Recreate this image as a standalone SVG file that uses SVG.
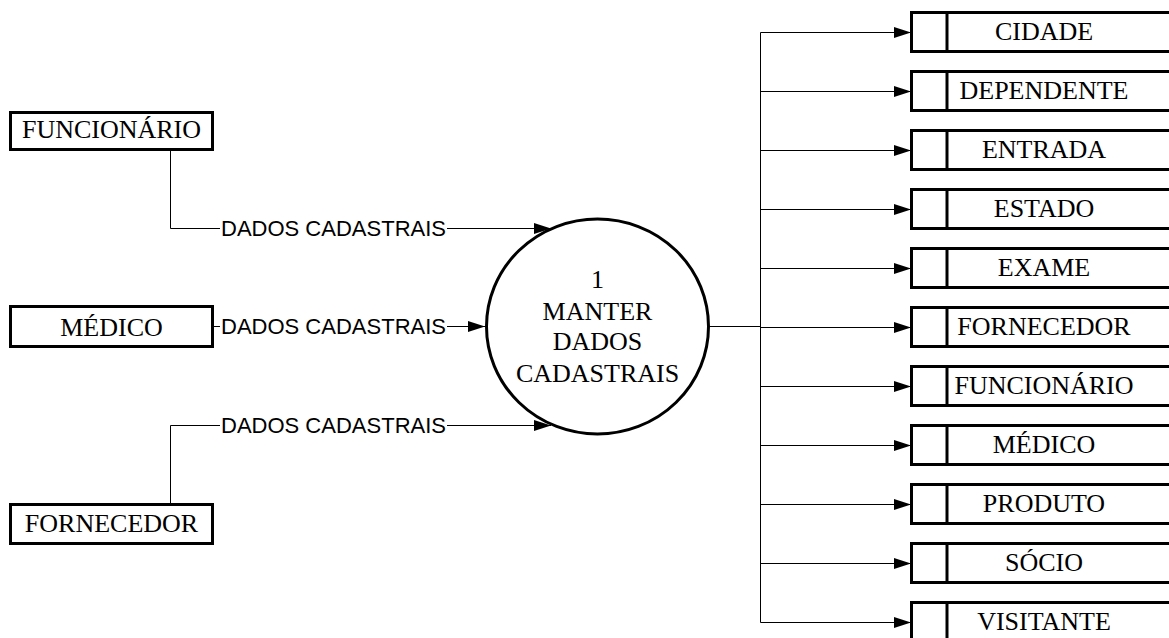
<svg xmlns="http://www.w3.org/2000/svg" width="1169" height="638" viewBox="0 0 1169 638">
<style>
.box{fill:#fff;stroke:#000;stroke-width:3}
.t{font-family:"Liberation Serif","Times New Roman",serif;font-size:26px;fill:#000;text-anchor:middle}
.lbl{font-family:"Liberation Sans",Arial,sans-serif;font-size:22px;fill:#000}
.ln{fill:none;stroke:#000;stroke-width:1}
.arr{fill:none;stroke:#000;stroke-width:1;marker-end:url(#ah)}
</style>
<defs>
<marker id="ah" markerUnits="userSpaceOnUse" markerWidth="18" markerHeight="12" refX="17" refY="6" orient="auto">
<path d="M0,0.5 L17,6 L0,11.5 z" fill="#000"/>
</marker>
</defs>
<rect width="1169" height="638" fill="#fff"/>
<g id="connectors">
<path class="ln" d="M170.5,150 V228.5 H220"/>
<path class="arr" d="M447,228.5 H551"/>
<path class="ln" d="M213,326.5 H220"/>
<path class="arr" d="M447,326.5 H485"/>
<path class="ln" d="M170.5,504 V425.5 H220"/>
<path class="arr" d="M447,425.5 H551"/>
<path class="ln" d="M709,326.5 H760.5 M760.5,32.5 V622.5"/>
<path class="arr" d="M760.5,32.5 H911"/>
<path class="arr" d="M760.5,91.5 H911"/>
<path class="arr" d="M760.5,150.5 H911"/>
<path class="arr" d="M760.5,209.5 H911"/>
<path class="arr" d="M760.5,268.5 H911"/>
<path class="arr" d="M760.5,327.5 H911"/>
<path class="arr" d="M760.5,386.5 H911"/>
<path class="arr" d="M760.5,445.5 H911"/>
<path class="arr" d="M760.5,504.5 H911"/>
<path class="arr" d="M760.5,563.5 H911"/>
<path class="arr" d="M760.5,622.5 H911"/>
<text class="lbl" x="221" y="236" textLength="225">DADOS CADASTRAIS</text>
<text class="lbl" x="221" y="334" textLength="225">DADOS CADASTRAIS</text>
<text class="lbl" x="221" y="433" textLength="225">DADOS CADASTRAIS</text>
</g>
<g id="ext-funcionario">
<rect class="box" x="10.5" y="112.5" width="202" height="37"/>
<text class="t" x="111.5" y="138">FUNCIONÁRIO</text>
</g>
<g id="ext-medico">
<rect class="box" x="10.5" y="306.5" width="202" height="40"/>
<text class="t" x="111.5" y="336">MÉDICO</text>
</g>
<g id="ext-fornecedor">
<rect class="box" x="10.5" y="504.5" width="202" height="39"/>
<text class="t" x="111.5" y="532">FORNECEDOR</text>
</g>
<g id="process-1">
<ellipse cx="597.5" cy="326.5" rx="111" ry="107.5" fill="#fff" stroke="#000" stroke-width="3"/>
<text class="t" x="597.5" y="288">1</text>
<text class="t" x="597.5" y="320">MANTER</text>
<text class="t" x="597.5" y="350">DADOS</text>
<text class="t" x="597.5" y="382">CADASTRAIS</text>
</g>
<g id="ds-cidade"><rect class="box" x="911.5" y="12.5" width="300" height="39"/><line class="box" x1="947" y1="12.5" x2="947" y2="51.5"/><text class="t" x="1044" y="40">CIDADE</text></g>
<g id="ds-dependente"><rect class="box" x="911.5" y="71.5" width="300" height="39"/><line class="box" x1="947" y1="71.5" x2="947" y2="110.5"/><text class="t" x="1044" y="99">DEPENDENTE</text></g>
<g id="ds-entrada"><rect class="box" x="911.5" y="130.5" width="300" height="39"/><line class="box" x1="947" y1="130.5" x2="947" y2="169.5"/><text class="t" x="1044" y="158">ENTRADA</text></g>
<g id="ds-estado"><rect class="box" x="911.5" y="189.5" width="300" height="39"/><line class="box" x1="947" y1="189.5" x2="947" y2="228.5"/><text class="t" x="1044" y="217">ESTADO</text></g>
<g id="ds-exame"><rect class="box" x="911.5" y="248.5" width="300" height="39"/><line class="box" x1="947" y1="248.5" x2="947" y2="287.5"/><text class="t" x="1044" y="276">EXAME</text></g>
<g id="ds-fornecedor"><rect class="box" x="911.5" y="307.5" width="300" height="39"/><line class="box" x1="947" y1="307.5" x2="947" y2="346.5"/><text class="t" x="1044" y="335">FORNECEDOR</text></g>
<g id="ds-funcionario"><rect class="box" x="911.5" y="366.5" width="300" height="39"/><line class="box" x1="947" y1="366.5" x2="947" y2="405.5"/><text class="t" x="1044" y="394">FUNCIONÁRIO</text></g>
<g id="ds-medico"><rect class="box" x="911.5" y="425.5" width="300" height="39"/><line class="box" x1="947" y1="425.5" x2="947" y2="464.5"/><text class="t" x="1044" y="453">MÉDICO</text></g>
<g id="ds-produto"><rect class="box" x="911.5" y="484.5" width="300" height="39"/><line class="box" x1="947" y1="484.5" x2="947" y2="523.5"/><text class="t" x="1044" y="512">PRODUTO</text></g>
<g id="ds-socio"><rect class="box" x="911.5" y="543.5" width="300" height="39"/><line class="box" x1="947" y1="543.5" x2="947" y2="582.5"/><text class="t" x="1044" y="571">SÓCIO</text></g>
<g id="ds-visitante"><rect class="box" x="911.5" y="602.5" width="300" height="39"/><line class="box" x1="947" y1="602.5" x2="947" y2="641.5"/><text class="t" x="1044" y="630">VISITANTE</text></g>
</svg>
